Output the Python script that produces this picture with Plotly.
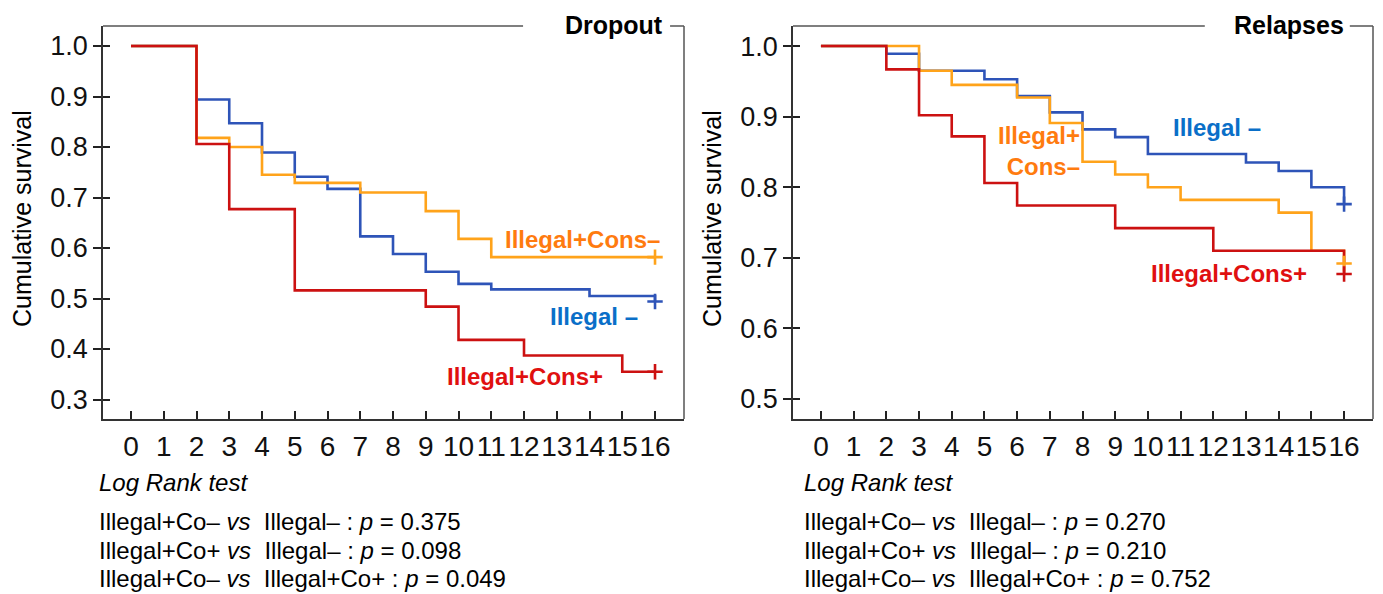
import plotly.graph_objects as go

# ---------------- data ----------------
times_ticks = list(range(0, 17))
y_ticks_drop = [0.3, 0.4, 0.5, 0.6, 0.7, 0.8, 0.9, 1.0]
y_ticks_rel = [0.5, 0.6, 0.7, 0.8, 0.9, 1.0]

# Dropout panel
drop_blue_t = [0, 2, 3, 4, 5, 6, 7, 8, 9, 10, 11, 14, 16, 16]
drop_blue_v = [1.0, 0.894, 0.847, 0.789, 0.741, 0.717, 0.623, 0.588, 0.553, 0.529, 0.518, 0.505, 0.505, 0.494]
drop_orange_t = [0, 2, 3, 4, 5, 7, 9, 10, 11, 16]
drop_orange_v = [1.0, 0.818, 0.800, 0.745, 0.729, 0.710, 0.673, 0.618, 0.582, 0.582]
drop_red_t = [0, 2, 3, 5, 9, 10, 12, 15, 16]
drop_red_v = [1.0, 0.806, 0.677, 0.516, 0.484, 0.418, 0.387, 0.355, 0.355]
drop_censor_t = [16, 16, 16]
drop_censor_v = [0.494, 0.582, 0.355]

# Relapses panel
rel_blue_t = [0, 2, 3, 5, 6, 7, 8, 9, 10, 13, 14, 15, 16, 16]
rel_blue_v = [1.0, 0.989, 0.965, 0.953, 0.929, 0.906, 0.882, 0.871, 0.847, 0.835, 0.823, 0.800, 0.800, 0.776]
rel_orange_t = [0, 3, 4, 6, 7, 8, 9, 10, 11, 14, 15, 16, 16]
rel_orange_v = [1.0, 0.965, 0.945, 0.927, 0.891, 0.836, 0.818, 0.800, 0.782, 0.764, 0.710, 0.710, 0.692]
rel_red_t = [0, 2, 3, 4, 5, 6, 9, 12, 16, 16]
rel_red_v = [1.0, 0.967, 0.902, 0.872, 0.806, 0.774, 0.742, 0.710, 0.710, 0.677]
rel_censor_t = [16, 16, 16]
rel_censor_v = [0.776, 0.692, 0.677]

drop_tests = [
    "Illegal+Co– <i>vs</i>  Illegal– : <i>p</i> = 0.375",
    "Illegal+Co+ <i>vs</i>  Illegal– : <i>p</i> = 0.098",
    "Illegal+Co– <i>vs</i>  Illegal+Co+ : <i>p</i> = 0.049",
]
rel_tests = [
    "Illegal+Co– <i>vs</i>  Illegal– : <i>p</i> = 0.270",
    "Illegal+Co+ <i>vs</i>  Illegal– : <i>p</i> = 0.210",
    "Illegal+Co– <i>vs</i>  Illegal+Co+ : <i>p</i> = 0.752",
]

# ---------------- style ----------------
FONT = "Liberation Sans, Arial, sans-serif"
BLUE_L, ORANGE_L, RED_L = "#2e54b8", "#ffa31a", "#cc1111"
BLUE_T, ORANGE_T, RED_T = "#0a6fc8", "#ff7b0f", "#e01010"
W, H = 1383, 594

fig = go.Figure()

def add_lines(t, v, color, xa, ya):
    fig.add_trace(go.Scatter(x=t, y=v, mode="lines", xaxis=xa, yaxis=ya,
                             line=dict(shape="hv", width=2.6, color=color),
                             hoverinfo="skip", showlegend=False))

add_lines(drop_blue_t, drop_blue_v, BLUE_L, "x", "y")
add_lines(drop_orange_t, drop_orange_v, ORANGE_L, "x", "y")
add_lines(drop_red_t, drop_red_v, RED_L, "x", "y")
add_lines(rel_blue_t, rel_blue_v, BLUE_L, "x2", "y2")
add_lines(rel_orange_t, rel_orange_v, ORANGE_L, "x2", "y2")
add_lines(rel_red_t, rel_red_v, RED_L, "x2", "y2")

for t, v, xa, ya in [(drop_censor_t, drop_censor_v, "x", "y3"),
                     (rel_censor_t, rel_censor_v, "x2", "y4")]:
    fig.add_trace(go.Scatter(
        x=t, y=v, mode="markers", xaxis=xa, yaxis=ya, showlegend=False, hoverinfo="skip",
        marker=dict(symbol="cross-thin", size=11,
                    line=dict(width=2.6, color=[BLUE_L, ORANGE_L, RED_L]))))

# pixel geometry helpers
def px_x(p):
    return p / W

def px_y(p):
    return 1 - p / H

x_range = [-0.855, 16.885]
drop_range = [0.2614, 1.0396]
rel_range = [0.4716, 1.0284]
y_dom = [px_y(419), px_y(26)]

xaxis_common = dict(range=x_range, tickvals=times_ticks, ticks="inside", ticklen=8,
                    tickwidth=1.5, tickcolor="#222", showline=True, linecolor="#333",
                    linewidth=1.5, showgrid=False, zeroline=False, tickangle=0,
                    tickfont=dict(family=FONT, size=28, color="#111"),
                    ticklabelstandoff=2)
yaxis_common = dict(ticks="outside", ticklen=8, tickwidth=1.5, tickcolor="#222",
                    showline=True, linecolor="#333", linewidth=1.5, showgrid=False,
                    zeroline=False, tickformat=".1f",
                    tickfont=dict(family=FONT, size=27, color="#111"))
yover_common = dict(ticks="inside", ticklen=7, tickwidth=1.5, tickcolor="#222",
                    showline=False, showgrid=False, zeroline=False, showticklabels=False)

fig.update_layout(
    width=W, height=H, autosize=False,
    margin=dict(l=0, r=0, t=0, b=0),
    paper_bgcolor="white", plot_bgcolor="white",
    xaxis=dict(domain=[px_x(103), px_x(684)], anchor="y", **xaxis_common),
    xaxis2=dict(domain=[px_x(793), px_x(1373)], anchor="y2", **xaxis_common),
    yaxis=dict(domain=y_dom, anchor="x", range=drop_range, tickvals=y_ticks_drop, **yaxis_common),
    yaxis2=dict(domain=y_dom, anchor="x2", range=rel_range, tickvals=y_ticks_rel, **yaxis_common),
    yaxis3=dict(overlaying="y", anchor="x", range=drop_range, tickvals=y_ticks_drop, **yover_common),
    yaxis4=dict(overlaying="y2", anchor="x2", range=rel_range, tickvals=y_ticks_rel, **yover_common),
)

# frame: top line with gap for title, and right border
frame_col = "#555"
shapes = []
for xr, yr, gap0, gap1 in [("x domain", "y domain", 0.723, 0.976),
                           ("x2 domain", "y2 domain", 0.710, 0.960)]:
    shapes.append(dict(type="line", xref=xr, yref=yr, x0=0, x1=gap0, y0=1, y1=1,
                       line=dict(color=frame_col, width=1.5)))
    shapes.append(dict(type="line", xref=xr, yref=yr, x0=gap1, x1=1, y0=1, y1=1,
                       line=dict(color=frame_col, width=1.5)))
    shapes.append(dict(type="line", xref=xr, yref=yr, x0=1, x1=1, y0=0, y1=1,
                       line=dict(color=frame_col, width=1.5)))
fig.update_layout(shapes=shapes)

ann = []
def txt(text, x, y, size, color="black", xanchor="center", xref="paper", yref="paper", **kw):
    return dict(text=text, x=x, y=y, xref=xref, yref=yref, xanchor=xanchor,
                yanchor="middle", showarrow=False,
                font=dict(family=FONT, size=size, color=color), **kw)

# panel titles
ann.append(txt("<b>Dropout</b>", px_x(614), px_y(25), 25))
ann.append(txt("<b>Relapses</b>", px_x(1289), px_y(25), 25))
# y-axis titles
for xc in [22, 712]:
    ann.append(txt("Cumulative survival", px_x(xc), px_y(219), 25, textangle=-90))

# curve labels
ann += [
    txt("<b>Illegal+Cons–</b>", 16.21, 0.616, 24, ORANGE_T, "right", "x", "y"),
    txt("<b>Illegal –</b>", 15.54, 0.465, 24, BLUE_T, "right", "x", "y"),
    txt("<b>Illegal+Cons+</b>", 14.47, 0.3465, 24, RED_T, "right", "x", "y"),
    txt("<b>Illegal –</b>", 10.72, 0.885, 24, BLUE_T, "left", "x2", "y2"),
    txt("<b>Illegal+<br>Cons–</b>", 7.97, 0.852, 24, ORANGE_T, "right", "x2", "y2", align="right"),
    txt("<b>Illegal+Cons+</b>", 14.93, 0.678, 24, RED_T, "right", "x2", "y2"),
]

# log rank text blocks
for x0, tests in [(97, drop_tests), (802, rel_tests)]:
    ann.append(txt("<i>Log Rank test</i>", px_x(x0), px_y(482), 24, xanchor="left"))
    for yy, line in zip([521, 550, 578], tests):
        ann.append(txt(line, px_x(x0), px_y(yy), 24, xanchor="left"))

fig.update_layout(annotations=ann)
fig.write_html("out.html", config={"displayModeBar": False},
               post_script="document.body.style.margin='0px';")
